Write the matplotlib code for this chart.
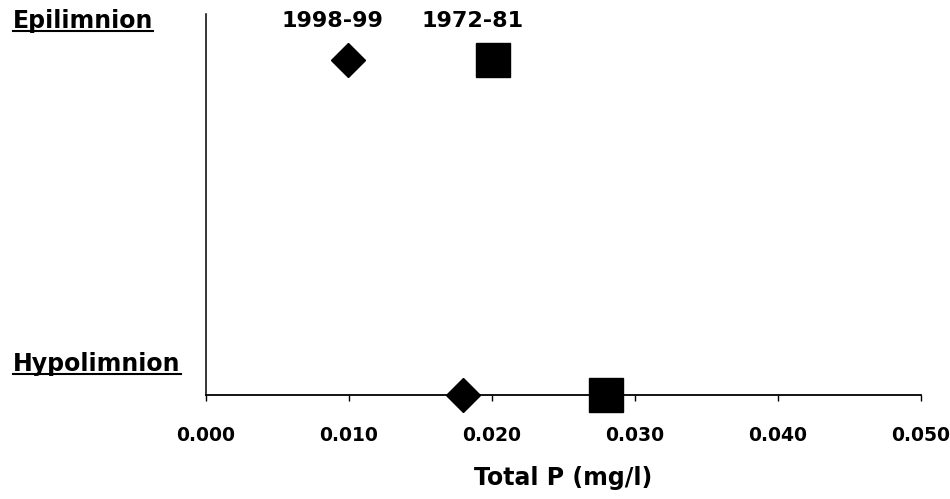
import matplotlib
matplotlib.use("Agg")
import matplotlib.pyplot as plt
from matplotlib.lines import Line2D

# capas do lago (0 = fundo, 1 = superficie)
camadas = ["Hypolimnion", "Epilimnion"]
periodos = ["1998-99", "1972-81"]
p_1998 = [0.0180, 0.0099]
p_1972 = [0.0280, 0.0201]
xticks = [0.000, 0.010, 0.020, 0.030, 0.040, 0.050]

plt.rcParams['font.family'] = ['DejaVu Sans']
plt.rcParams['font.weight'] = 'bold'

fig = plt.figure(figsize=(9.5, 4.99), dpi=100)
ax = fig.add_axes([206/950, 1-395/499, (921-206)/950, (395-14)/499])

pos = list(range(len(camadas)))
ax.plot(p_1998, pos, linestyle='none', marker='D', markersize=17, color='black', clip_on=False)
ax.plot(p_1972, pos, linestyle='none', marker='s', markersize=25, color='black', clip_on=False)

ax.set_xlim(xticks[0], xticks[-1])
ax.set_ylim(0, 1.137)
ax.set_xticks(xticks)
ax.set_xticklabels(["%.3f" % v for v in xticks], fontsize=13.5, fontweight='bold')
ax.set_yticks([])
ax.tick_params(axis='x', direction='out', length=4.5, width=1, pad=18)
ax.spines['top'].set_visible(False)
ax.spines['right'].set_visible(False)
ax.spines['bottom'].set_linewidth(1.3)
ax.spines['left'].set_linewidth(1.1)
ax.set_xlabel("Total P (mg/l)", fontsize=17, fontweight='bold', labelpad=15)

# rotulos dos periodos por cima dos pontos do epilimnion
ax.annotate(periodos[0], xy=(p_1998[1], pos[1]), xytext=(-11, 28), textcoords='offset points',
            ha='center', va='center', fontsize=16, fontweight='bold')
ax.annotate(periodos[1], xy=(p_1972[1], pos[1]), xytext=(-15, 28), textcoords='offset points',
            ha='center', va='center', fontsize=16, fontweight='bold')

# nomes das camadas, sublinhados
t1 = fig.text(13/950, 1-28/499, camadas[1], fontsize=17, fontweight='bold', ha='left', va='baseline')
t2 = fig.text(13/950, 1-371/499, camadas[0], fontsize=17, fontweight='bold', ha='left', va='baseline')
fig.canvas.draw()
r = fig.canvas.get_renderer()
for t in [t1, t2]:
    bb = t.get_window_extent(r).transformed(fig.transFigure.inverted())
    x0, y0 = t.get_position()
    yl = y0 - 2.5/499
    fig.add_artist(Line2D([bb.x0, bb.x1], [yl, yl], color='black', linewidth=1.5, transform=fig.transFigure))

fig.savefig("out.png", dpi=100)
